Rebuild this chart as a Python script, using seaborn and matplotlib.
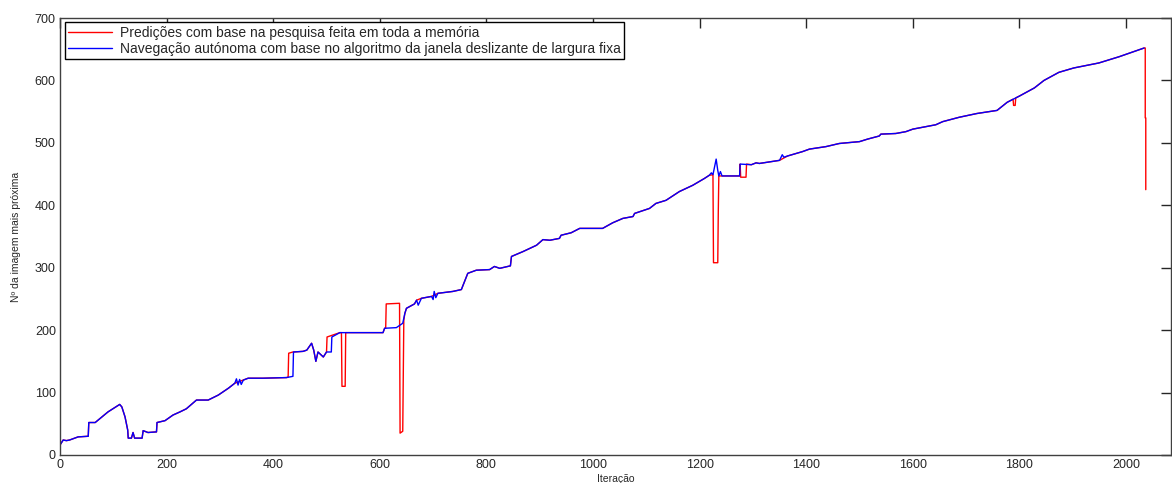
import matplotlib
matplotlib.use("Agg")
import matplotlib.pyplot as plt
import seaborn as sns
import pandas as pd

# ---------------- data ----------------
blue_iter = [0, 6, 12, 18, 34, 53, 54, 66, 90, 112, 116, 122, 127, 128, 134, 137, 140, 154, 156, 165,
             181, 182, 197, 212, 225, 237, 256, 278, 297, 316, 328, 331, 334, 337, 340, 344, 353, 381, 425, 437,
             438, 456, 463, 472, 476, 480, 484, 494, 500, 509, 510, 525, 606, 609, 631, 643, 647, 650, 665, 669,
             672, 678, 697, 700, 702, 705, 709, 737, 753, 759, 765, 781, 806, 815, 825, 845, 847, 869, 894, 906,
             919, 937, 940, 959, 975, 1018, 1037, 1056, 1075, 1078, 1106, 1118, 1137, 1162, 1187, 1209, 1218, 1222, 1225, 1231,
             1234, 1236, 1239, 1242, 1275, 1276, 1297, 1306, 1312, 1350, 1355, 1358, 1365, 1393, 1406, 1437, 1462, 1500, 1515, 1537,
             1540, 1568, 1587, 1600, 1618, 1643, 1656, 1687, 1720, 1758, 1777, 1800, 1828, 1846, 1874, 1902, 1949, 1987, 2034]
blue_val = [16, 24, 23, 24, 29, 30, 52, 52, 69, 81, 77, 61, 40, 27, 27, 36, 27, 27, 39, 36,
            37, 52, 55, 64, 69, 74, 88, 88, 96, 107, 115, 122, 112, 121, 113, 120, 123, 123, 124, 126,
            165, 166, 168, 179, 168, 150, 165, 157, 165, 165, 189, 196, 196, 203, 204, 211, 227, 235, 242, 248,
            240, 251, 254, 249, 262, 252, 259, 262, 265, 278, 291, 296, 297, 302, 299, 303, 318, 326, 336, 345,
            344, 347, 352, 356, 363, 363, 372, 379, 382, 387, 395, 403, 408, 422, 432, 443, 448, 452, 449, 474,
            456, 447, 454, 447, 447, 466, 465, 468, 467, 472, 481, 477, 479, 486, 490, 494, 499, 502, 506, 511,
            514, 515, 518, 522, 525, 529, 534, 541, 547, 552, 565, 575, 588, 600, 613, 620, 628, 638, 652]

red_iter = [0, 0, 6, 12, 18, 34, 53, 54, 66, 90, 112, 116, 122, 127, 128, 134, 137, 140, 154, 156, 165,
            181, 182, 197, 212, 225, 237, 256, 278, 297, 316, 328, 353, 381, 425, 428, 429, 437, 438, 456,
            463, 472, 476, 480, 484, 494, 500, 501, 525, 528, 529, 535, 536, 606, 609, 611, 612, 637, 638, 643,
            644, 645, 647, 650, 665, 669, 678, 697, 709, 737, 753, 759, 765, 781, 806, 815, 825, 845, 847, 869,
            894, 906, 919, 937, 940, 959, 975, 1018, 1037, 1056, 1075, 1078, 1106, 1118, 1137, 1162, 1187, 1209, 1218, 1225,
            1226, 1234, 1235, 1236, 1242, 1275, 1276, 1277, 1287, 1288, 1297, 1306, 1312, 1350, 1365, 1393, 1406, 1437, 1462, 1500,
            1515, 1537, 1540, 1568, 1587, 1600, 1618, 1643, 1656, 1687, 1720, 1758, 1777, 1788, 1789, 1792, 1793, 1800, 1828, 1846,
            1874, 1902, 1949, 1987, 2034, 2036, 2036, 2037, 2037]
red_val = [0, 16, 24, 23, 24, 29, 30, 52, 52, 69, 81, 77, 61, 40, 27, 27, 36, 27, 27, 39, 36,
           37, 52, 55, 64, 69, 74, 88, 88, 96, 107, 115, 123, 123, 124, 125, 163, 165, 165, 166,
           168, 179, 168, 150, 165, 157, 165, 189, 196, 196, 110, 110, 196, 196, 203, 203, 242, 243, 35, 38,
           125, 216, 227, 235, 242, 248, 251, 254, 259, 262, 265, 278, 291, 296, 297, 302, 299, 303, 318, 326,
           336, 345, 344, 347, 352, 356, 363, 363, 372, 379, 382, 387, 395, 403, 408, 422, 432, 443, 448, 449,
           308, 308, 390, 447, 447, 447, 466, 445, 445, 466, 465, 468, 467, 472, 479, 486, 490, 494, 499, 502,
           506, 511, 514, 515, 518, 522, 525, 529, 534, 541, 547, 552, 565, 570, 560, 560, 572, 575, 588, 600,
           613, 620, 628, 638, 652, 652, 540, 540, 425]

label_red = "Predições com base na pesquisa feita em toda a memória"
label_blue = "Navegação autónoma com base no algoritmo da janela deslizante de largura fixa"
x_ticks = [0, 200, 400, 600, 800, 1000, 1200, 1400, 1600, 1800, 2000]
y_ticks = [0, 100, 200, 300, 400, 500, 600, 700]

# ---------------- plot ----------------
sns.set_theme(style="white")
plt.rcParams['font.family'] = ['Liberation Sans', 'DejaVu Sans']

fig = plt.figure(figsize=(11.72, 4.83), dpi=100)
ax = fig.add_axes([0.0512, 0.058, 0.9478, 0.9047])

df_red = pd.DataFrame({"it": red_iter, "val": red_val})
df_blue = pd.DataFrame({"it": blue_iter, "val": blue_val})

sns.lineplot(data=df_red, x="it", y="val", sort=False, estimator=None, color="#ff0000",
             linewidth=1.0, ax=ax, label=label_red)
sns.lineplot(data=df_blue, x="it", y="val", sort=False, estimator=None, color="#0000ff",
             linewidth=1.0, ax=ax, label=label_blue)

ax.set_xlim(0, 2084)
ax.set_ylim(0, 700)
ax.set_xticks(x_ticks)
ax.set_yticks(y_ticks)
ax.set_xlabel("Iteração", fontsize=7.5, labelpad=2, color="#262626")
ax.set_ylabel("Nº da imagem mais próxima", fontsize=7.5, labelpad=10, color="#262626")
ax.tick_params(axis="both", which="both", direction="in", length=7, width=1,
               top=True, right=True, labelsize=9, colors="#262626", pad=3)
for s in ax.spines.values():
    s.set_visible(True)
    s.set_color("#404040")
    s.set_linewidth(1.0)

leg = ax.legend(loc="upper left", bbox_to_anchor=(0.002, 0.997), fontsize=10,
                frameon=True, fancybox=False, shadow=False, framealpha=1,
                handlelength=3.1, handletextpad=0.6, borderpad=0.25, labelspacing=0.15,
                borderaxespad=0.2)
leg.get_frame().set_edgecolor("black")
leg.get_frame().set_linewidth(1.0)

fig.savefig("out.png", dpi=100, facecolor="white")
